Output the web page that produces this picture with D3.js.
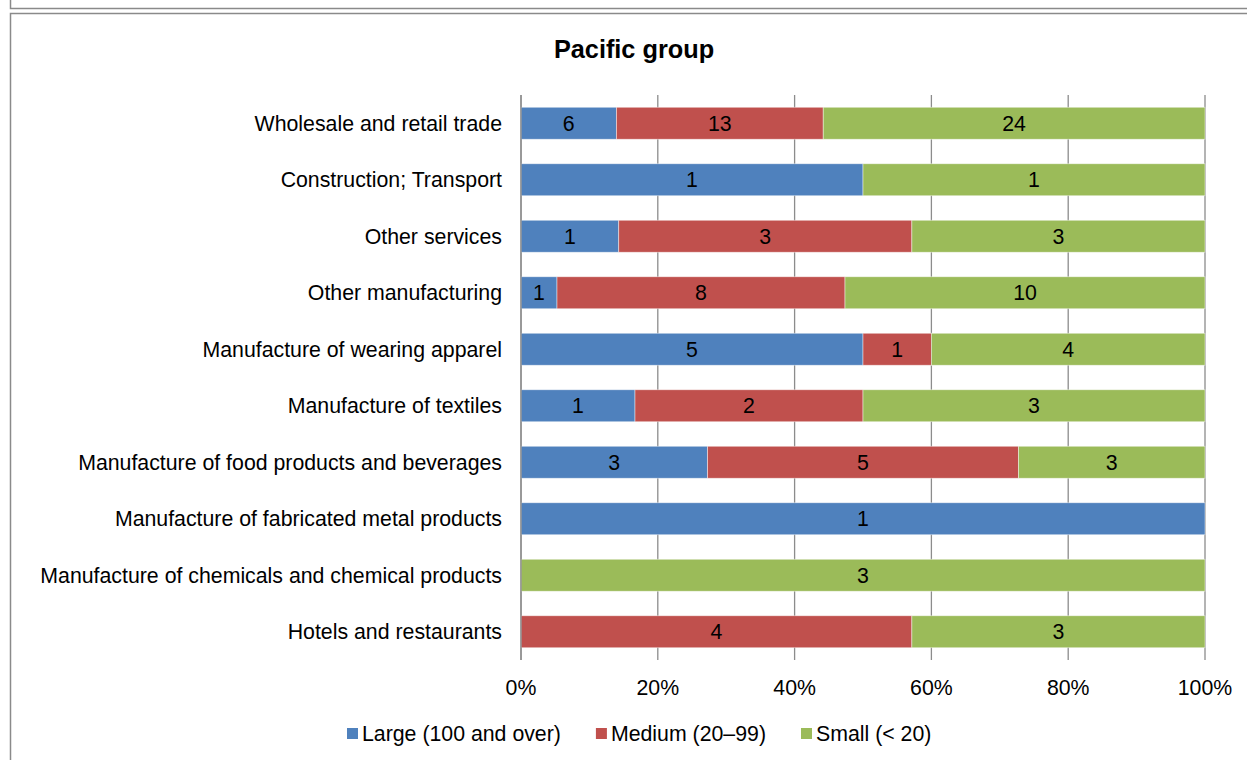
<!DOCTYPE html>
<html>
<head>
<meta charset="utf-8">
<script src="https://cdn.jsdelivr.net/npm/d3@7"></script>
<style>
  html, body { margin: 0; padding: 0; background: #fff; }
  svg { display: block; font-family: "Liberation Sans", Arial, sans-serif; }
</style>
</head>
<body>
<svg id="chart" width="1247" height="760"></svg>
<script>
// Enterprise counts by industry and size class (Pacific group)
const categories = [
  "Wholesale and retail trade",
  "Construction; Transport",
  "Other services",
  "Other manufacturing",
  "Manufacture of wearing apparel",
  "Manufacture of textiles",
  "Manufacture of food products and beverages",
  "Manufacture of fabricated metal products",
  "Manufacture of chemicals and chemical products",
  "Hotels and restaurants"
];
const seriesNames = ["Large (100 and over)", "Medium (20\u201399)", "Small (< 20)"];
const large  = [6, 1, 1, 1, 5, 1, 3, 1, 0, 0];
const medium = [13, 0, 3, 8, 1, 2, 5, 0, 0, 4];
const small  = [24, 1, 3, 10, 4, 3, 3, 0, 3, 3];
const tickValues = [0, 0.2, 0.4, 0.6, 0.8, 1.0];
const colors = ["#4F81BD", "#C0504D", "#9BBB59"];

const FS = 21.3;
const svg = d3.select("#chart");

// Frame lines (end of the previous panel and border of this one)
const frame = svg.append("g").attr("stroke", "#8a8a8a").attr("stroke-width", 1.5).attr("fill", "none");
frame.append("path").attr("d", "M10.5,0 V8.5 H1247");
frame.append("path").attr("d", "M10.5,760 V13.5 H1247");

const x = d3.scaleLinear().domain([0, 1]).range([521, 1205]);
const y = d3.scaleBand().domain(categories).range([95, 660]).paddingInner(0.434).paddingOuter(0.217);

// Gridlines
svg.append("g")
  .selectAll("line")
  .data(tickValues)
  .join("line")
  .attr("x1", d => x(d)).attr("x2", d => x(d))
  .attr("y1", 95).attr("y2", 660)
  .attr("stroke", "#8c8c8c").attr("stroke-width", 1.3);

// Build stacked shares
const rows = categories.map((c, i) => ({ cat: c, vals: [large[i], medium[i], small[i]] }));
const segs = [];
rows.forEach(r => {
  const total = d3.sum(r.vals);
  let acc = 0;
  r.vals.forEach((v, k) => {
    if (v > 0) segs.push({ cat: r.cat, k, v, x0: acc / total, x1: (acc + v) / total });
    acc += v;
  });
});

const bars = svg.append("g");
bars.selectAll("rect")
  .data(segs)
  .join("rect")
  .attr("x", d => x(d.x0))
  .attr("y", d => y(d.cat))
  .attr("width", d => x(d.x1) - x(d.x0))
  .attr("height", y.bandwidth())
  .attr("fill", d => colors[d.k])
  .attr("stroke", "rgba(255,255,255,0.55)")
  .attr("stroke-width", 0.8);

bars.selectAll("text")
  .data(segs)
  .join("text")
  .attr("x", d => (x(d.x0) + x(d.x1)) / 2)
  .attr("y", d => y(d.cat) + y.bandwidth() / 2)
  .attr("dy", "0.36em")
  .attr("text-anchor", "middle")
  .attr("font-size", FS)
  .attr("fill", "#000")
  .text(d => d.v);

// Left axis line
svg.append("line")
  .attr("x1", x(0)).attr("x2", x(0)).attr("y1", 95).attr("y2", 660)
  .attr("stroke", "#8c8c8c").attr("stroke-width", 1.3);

// Category labels
svg.append("g")
  .selectAll("text")
  .data(categories)
  .join("text")
  .attr("x", 502)
  .attr("y", d => y(d) + y.bandwidth() / 2)
  .attr("dy", "0.36em")
  .attr("text-anchor", "end")
  .attr("font-size", FS)
  .attr("fill", "#000")
  .text(d => d);

// Percentage tick labels
svg.append("g")
  .selectAll("text")
  .data(tickValues)
  .join("text")
  .attr("x", d => x(d))
  .attr("y", 687)
  .attr("dy", "0.36em")
  .attr("text-anchor", "middle")
  .attr("font-size", FS)
  .attr("fill", "#000")
  .text(d => d3.format(".0%")(d));

// Title
svg.append("text")
  .attr("x", 634).attr("y", 49)
  .attr("dy", "0.36em")
  .attr("text-anchor", "middle")
  .attr("font-size", 25.3)
  .attr("font-weight", "bold")
  .text("Pacific group");

// Legend
const legend = svg.append("g");
let lx = 347;
seriesNames.forEach((name, k) => {
  legend.append("rect")
    .attr("x", lx).attr("y", 728).attr("width", 11).attr("height", 11)
    .attr("fill", colors[k]);
  const t = legend.append("text")
    .attr("x", lx + 15).attr("y", 733)
    .attr("dy", "0.36em")
    .attr("font-size", FS)
    .attr("fill", "#000")
    .text(name);
  lx += 15 + t.node().getComputedTextLength() + 35;
});
</script>
</body>
</html>
